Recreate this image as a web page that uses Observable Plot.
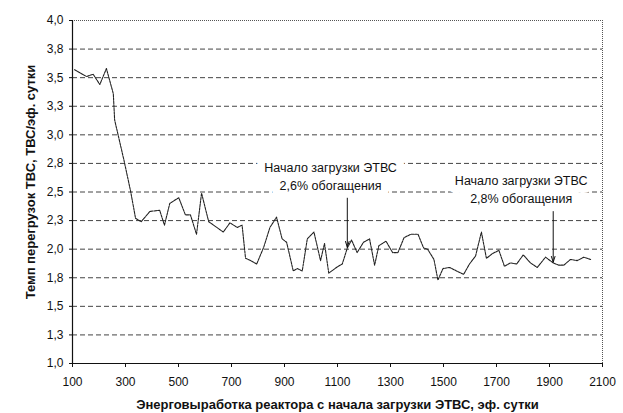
<!DOCTYPE html>
<html>
<head>
<meta charset="utf-8">
<script src="https://cdn.jsdelivr.net/npm/d3@7"></script>
<script src="https://cdn.jsdelivr.net/npm/@observablehq/plot@0.6"></script>
<style>
  html, body { margin: 0; padding: 0; background: #fff; }
  #chart svg { display: block; }
</style>
</head>
<body>
<div id="chart"></div>
<script>
// Effective days since start of ETVS loading
const days = [108, 153, 178, 203, 228, 254, 259, 294, 319, 338, 359, 392, 429, 447, 467, 501, 526, 545, 568, 587,
  614, 669, 694, 722, 740, 753, 772, 795, 822, 845, 870, 891, 908, 933, 948, 967, 986, 1011, 1036, 1051,
  1067, 1096, 1118, 1137, 1153, 1174, 1198, 1221, 1240, 1256, 1283, 1308, 1328, 1351, 1376, 1404, 1425, 1440, 1464, 1479,
  1498, 1523, 1549, 1576, 1598, 1621, 1643, 1662, 1684, 1709, 1730, 1753, 1776, 1801, 1828, 1854, 1885, 1914, 1935, 1954,
  1979, 2005, 2029, 2055];
// Refuelling rate, FA per effective day
const rate = [3.57, 3.51, 3.53, 3.44, 3.58, 3.36, 3.13, 2.78, 2.51, 2.27, 2.24, 2.33, 2.34, 2.21, 2.40, 2.45, 2.30, 2.30, 2.13, 2.49,
  2.24, 2.15, 2.23, 2.19, 2.21, 1.92, 1.90, 1.87, 2.02, 2.19, 2.28, 2.09, 2.06, 1.81, 1.83, 1.81, 2.09, 2.15, 1.90, 2.05,
  1.79, 1.84, 1.87, 2.01, 2.08, 1.97, 2.06, 2.09, 1.86, 2.03, 2.07, 1.97, 1.97, 2.10, 2.13, 2.13, 2.01, 2.00, 1.91, 1.73,
  1.83, 1.84, 1.81, 1.78, 1.87, 1.94, 2.15, 1.92, 1.96, 1.99, 1.85, 1.88, 1.87, 1.95, 1.88, 1.84, 1.93, 1.88, 1.86, 1.86,
  1.91, 1.90, 1.93, 1.91];

const xTicks = [100, 300, 500, 700, 900, 1100, 1300, 1500, 1700, 1900, 2100];
const yTicks = [1, 1.25, 1.5, 1.75, 2, 2.25, 2.5, 2.75, 3, 3.25, 3.5, 3.75, 4];
const yTickLabels = ["1,0", "1,3", "1,5", "1,8", "2,0", "2,3", "2,5", "2,8", "3,0", "3,3", "3,5", "3,8", "4,0"];

const xTitle = "Энерговыработка реактора с начала загрузки ЭТВС, эф. сутки";
const yTitle = "Темп перегрузок ТВС, ТВС/эф. сутки";

const noteText = ["Начало загрузки ЭТВС\n2,6% обогащения", "Начало загрузки ЭТВС\n2,8% обогащения"];
const noteX = [1074, 1793];
const noteY = [2.647, 2.53];
const arrowX = [1137, 1914];
const arrowFrom = [2.446, 2.329];
const arrowTo = [2.017, 1.886];

const series = days.map((d, i) => ({day: d, rate: rate[i]}));
const notes = noteText.map((t, i) => ({text: t, x: noteX[i], y: noteY[i]}));
const arrows = arrowX.map((x, i) => ({x, y1: arrowFrom[i], y2: arrowTo[i]}));
const gridTicks = yTicks.filter(v => v > 1 && v < 4);

const chart = Plot.plot({
  width: 623,
  height: 413,
  marginLeft: 72,
  marginRight: 21,
  marginTop: 20,
  marginBottom: 50,
  style: {fontFamily: "'Liberation Sans', Arial, sans-serif", fontSize: "12px", color: "#111", background: "#fff"},
  x: {domain: [100, 2100]},
  y: {domain: [1, 4]},
  marks: [
    Plot.ruleY(gridTicks, {stroke: "#444", strokeWidth: 1, strokeDasharray: "5,3"}),
    Plot.ruleY([4], {stroke: "#555", strokeWidth: 1, strokeDasharray: "1,1"}),
    Plot.ruleX([2100], {stroke: "#555", strokeWidth: 1, strokeDasharray: "1,1"}),
    Plot.ruleX([100], {stroke: "#111", strokeWidth: 1.2}),
    Plot.ruleY([1], {stroke: "#111", strokeWidth: 1.2}),
    Plot.axisX({ticks: xTicks, tickSize: 4, tickPadding: 10, tickFormat: d => String(d), label: null, fontSize: 12, stroke: "#111"}),
    Plot.axisY({ticks: yTicks, tickSize: 3, tickPadding: 6, tickFormat: d => yTickLabels[yTicks.indexOf(d)], label: null, fontSize: 12, stroke: "#111"}),
    Plot.text(notes, {x: "x", y: "y", text: "text", fontSize: 12.5, lineHeight: 1.4, fill: "#111",
      stroke: "#fff", strokeWidth: 16, strokeLinejoin: "round", paintOrder: "stroke"}),
    Plot.line(series, {x: "day", y: "rate", stroke: "#222", strokeWidth: 1.1, strokeDasharray: "2.5,1"}),
    Plot.arrow(arrows, {x1: "x", y1: "y1", x2: "x", y2: "y2", stroke: "#111", strokeWidth: 1, headLength: 9, headAngle: 35}),
    Plot.text([xTitle], {text: d => d, frameAnchor: "bottom", lineAnchor: "middle", textAnchor: "middle", dy: 41, fontWeight: "bold", fontSize: 13, fill: "#111"}),
    Plot.text([yTitle], {text: d => d, frameAnchor: "left", textAnchor: "middle", lineAnchor: "middle", rotate: -90, dx: -42, dy: -10, fontWeight: "bold", fontSize: 13, fill: "#111"})
  ]
});
document.getElementById("chart").appendChild(chart);
</script>
</body>
</html>
